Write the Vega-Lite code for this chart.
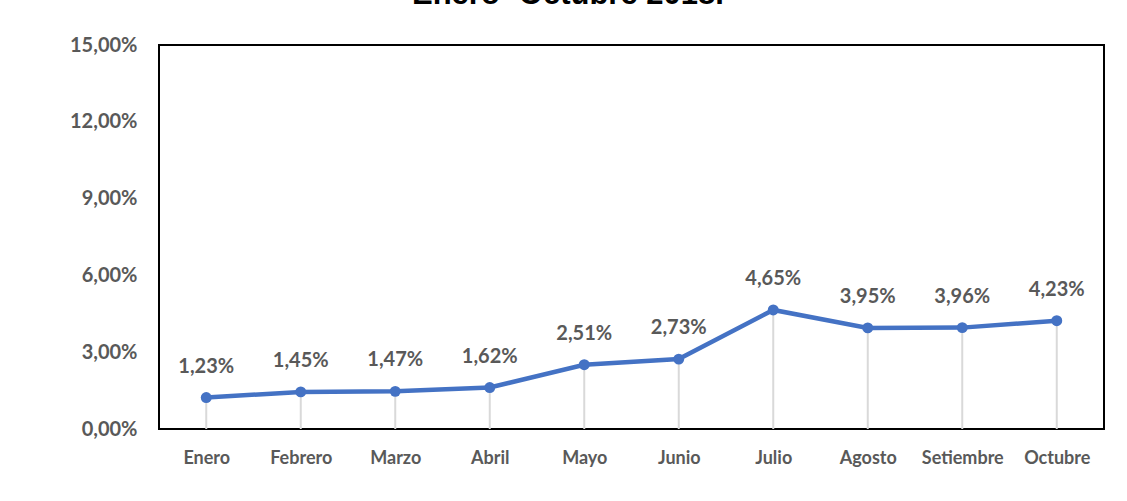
{
  "$schema": "https://vega.github.io/schema/vega-lite/v6.json",
  "width": 945,
  "height": 384,
  "autosize": {"type": "none"},
  "padding": {"left": 159, "top": 45, "right": 23, "bottom": 72},
  "background": "white",
  "title": {
    "text": "Enero- Octubre 2018.",
    "anchor": "start",
    "frame": "group",
    "dx": 253,
    "offset": 0,
    "baseline": "alphabetic",
    "font": "Liberation Sans",
    "fontSize": 31,
    "fontWeight": "bold",
    "color": "#000000"
  },
  "config": {
    "locale": {
      "number": {
        "decimal": ",",
        "thousands": ".",
        "grouping": [3],
        "currency": ["", " €"]
      }
    },
    "view": {"stroke": "#000000", "strokeWidth": 2}
  },
  "data": {
    "values": [
      {"mes": "Enero", "valor": 0.0123},
      {"mes": "Febrero", "valor": 0.0145},
      {"mes": "Marzo", "valor": 0.0147},
      {"mes": "Abril", "valor": 0.0162},
      {"mes": "Mayo", "valor": 0.0251},
      {"mes": "Junio", "valor": 0.0273},
      {"mes": "Julio", "valor": 0.0465},
      {"mes": "Agosto", "valor": 0.0395},
      {"mes": "Setiembre", "valor": 0.0396},
      {"mes": "Octubre", "valor": 0.0423}
    ]
  },
  "encoding": {
    "x": {
      "field": "mes",
      "type": "ordinal",
      "sort": null,
      "scale": {"type": "point", "padding": 0.5},
      "axis": {
        "title": null,
        "domain": false,
        "ticks": false,
        "labelAngle": 0,
        "labelPadding": 20,
        "labelFont": "Lato",
        "labelFontSize": 18,
        "labelFontWeight": "bold",
        "labelColor": "#595959",
        "grid": false
      }
    },
    "y": {
      "field": "valor",
      "type": "quantitative",
      "scale": {"domain": [0, 0.15], "nice": false},
      "axis": {
        "title": null,
        "domain": false,
        "ticks": false,
        "grid": false,
        "values": [0, 0.03, 0.06, 0.09, 0.12, 0.15],
        "format": ".2%",
        "labelPadding": 22,
        "labelFont": "Lato",
        "labelFontSize": 20,
        "labelFontWeight": "bold",
        "labelColor": "#595959"
      }
    }
  },
  "layer": [
    {
      "mark": {"type": "rule", "color": "#d9d9d9", "strokeWidth": 2},
      "encoding": {"y2": {"datum": 0}}
    },
    {
      "mark": {"type": "line", "color": "#4472c4", "strokeWidth": 4.5}
    },
    {
      "mark": {"type": "point", "filled": true, "opacity": 1, "color": "#4472c4", "size": 120}
    },
    {
      "mark": {"type": "text", "dy": -31, "font": "Lato", "fontSize": 20, "fontWeight": "bold", "color": "#595959"},
      "encoding": {"text": {"field": "valor", "type": "quantitative", "format": ".2%"}}
    }
  ]
}
